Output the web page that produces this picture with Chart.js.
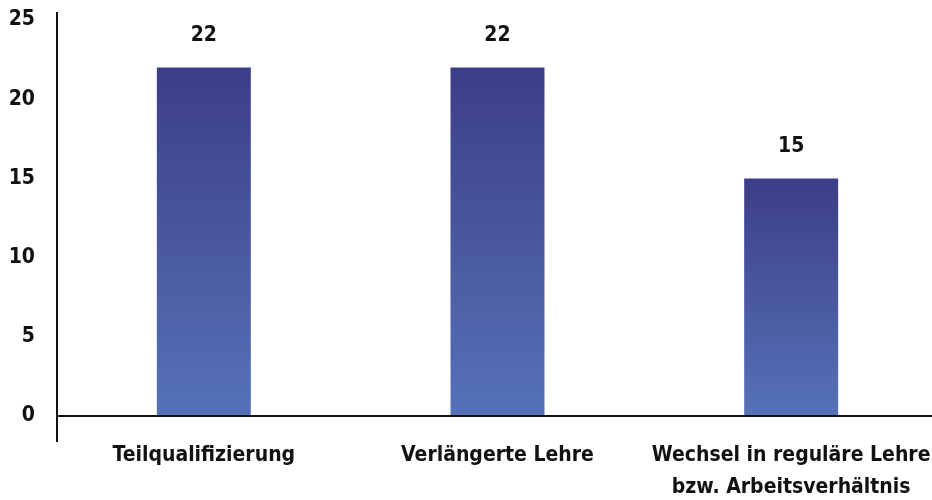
<!DOCTYPE html>
<html>
<head>
<meta charset="utf-8">
<script src="https://cdn.jsdelivr.net/npm/chart.js@4/dist/chart.umd.min.js"></script>
<style>
  html, body { margin: 0; padding: 0; background: #fff; overflow: hidden; }
  #wrap { width: 932px; height: 500px; overflow: hidden; }
</style>
</head>
<body>
<div id="wrap">
  <canvas id="barChart" width="938" height="500" style="width:938px;height:500px"></canvas>
</div>
<script>
// chart data
const categories = ['Teilqualifizierung', 'Verlängerte Lehre', ['Wechsel in reguläre Lehre', 'bzw. Arbeitsverhältnis']];
const values = [22, 22, 15];
const yTicks = [0, 5, 10, 15, 20, 25];

const FONT = '"Liberation Sans Narrow", "DejaVu Sans Condensed", "Arial Narrow", sans-serif';

// vertical gradient per bar, dark on top
function barGradient(context) {
  const chart = context.chart;
  const y = chart.scales.y;
  if (!chart.chartArea || !y) return '#4a5aa3';
  const top = y.getPixelForValue(context.raw);
  const bottom = y.getPixelForValue(0);
  const g = chart.ctx.createLinearGradient(0, top, 0, bottom);
  g.addColorStop(0, '#3c3e87');
  g.addColorStop(1, '#5672b7');
  return g;
}

// axis lines and value labels
const extras = {
  id: 'extras',
  afterDatasetsDraw(chart) {
    const ctx = chart.ctx;
    const area = chart.chartArea;
    const zero = chart.scales.y.getPixelForValue(0);
    ctx.save();
    ctx.strokeStyle = '#111';
    ctx.lineWidth = 2;
    ctx.beginPath();
    ctx.moveTo(area.left, area.top - 8);
    ctx.lineTo(area.left, zero + 26);
    ctx.moveTo(area.left, zero);
    ctx.lineTo(area.right, zero);
    ctx.stroke();

    ctx.fillStyle = '#111';
    ctx.font = 'bold 21px ' + FONT;
    ctx.textAlign = 'center';
    ctx.textBaseline = 'middle';
    chart.getDatasetMeta(0).data.forEach((bar, i) => {
      ctx.fillText(values[i], bar.x, bar.y - 32);
    });
    ctx.restore();
  }
};

new Chart(document.getElementById('barChart'), {
  type: 'bar',
  data: {
    labels: categories,
    datasets: [{
      data: values,
      backgroundColor: barGradient,
      borderWidth: 0,
      barPercentage: 0.32,
      categoryPercentage: 1
    }]
  },
  options: {
    responsive: false,
    animation: false,
    layout: { padding: { top: 20, left: 0, right: 0, bottom: 0 } },
    plugins: {
      legend: { display: false },
      tooltip: { enabled: false }
    },
    scales: {
      x: {
        grid: { display: false },
        border: { display: false },
        ticks: {
          color: '#111',
          font: { family: FONT, size: 21, weight: 'bold', lineHeight: 1.5 },
          padding: 16,
          maxRotation: 0,
          autoSkip: false
        },
        afterFit(scale) {
          scale.height = 84;
          scale.paddingLeft = 0;
          scale.paddingRight = 0;
        }
      },
      y: {
        min: 0,
        max: 25,
        grid: { display: false, drawTicks: false },
        border: { display: false },
        afterBuildTicks(scale) { scale.ticks = yTicks.map(v => ({ value: v })); },
        ticks: {
          color: '#111',
          font: { family: FONT, size: 21, weight: 'bold' },
          padding: 22
        },
        afterFit(scale) {
          scale.width = 57;
          scale.paddingTop = 0;
          scale.paddingBottom = 0;
        }
      }
    }
  },
  plugins: [extras]
});
</script>
</body>
</html>
